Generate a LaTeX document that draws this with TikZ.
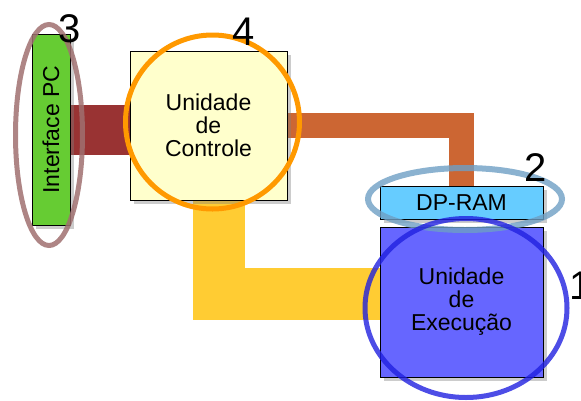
\documentclass[tikz,border=0pt]{standalone}
\usepackage{fontspec}
\setmainfont{Liberation Sans}
\usetikzlibrary{positioning, calc, shadows}
\pgfdeclarelayer{bg}
\pgfsetlayers{bg,main}
\definecolor{pcgreen}{HTML}{66CC33}
\definecolor{ctrlyellow}{HTML}{FFFFCC}
\definecolor{ramsky}{HTML}{66CCFF}
\definecolor{execblue}{HTML}{6666FF}
\definecolor{redbar}{HTML}{993333}
\definecolor{rustbar}{HTML}{CC6633}
\definecolor{yellowbar}{HTML}{FFCC33}
\definecolor{ringbrown}{HTML}{A07070}
\definecolor{ringorange}{HTML}{FF9900}
\definecolor{ringsky}{HTML}{6E9FC4}
\definecolor{ringblue}{HTML}{2020E0}

\begin{document}
\begin{tikzpicture}[
                    x=1pt, y=-1pt,
                    every node/.style={font=\fontsize{23}{23}\selectfont},
                    box/.style={draw, line width=1pt, inner sep=0pt, align=center,
                                drop shadow={shadow xshift=4pt, shadow yshift=-4pt, opacity=.4}},
                    bar/.style={line width=#1, line join=miter,
                                preaction={draw=black, opacity=.3, transform canvas={shift={(4pt,-4pt)}}}},
                    ring/.style={line width=5pt},
                    digit/.style={font=\fontsize{40}{40}\selectfont, inner sep=0pt},
                ]
                \useasboundingbox (0,0) rectangle (581,400);

                % blocos
                \node[box, fill=pcgreen, minimum width=38pt, minimum height=191pt] (pc) at (51,129.5) {\rotatebox{90}{Interface PC}};
                \node[box, fill=ctrlyellow, minimum width=157pt, minimum height=149pt] (ctrl) at (208.5,125.5) {Unidade\\de\\Controle};
                \node[box, fill=execblue, minimum width=163pt, minimum height=150pt] (exec) at (461.5,302) {Unidade\\de\\Execução};
                \node[box, fill=ramsky, minimum width=163pt, minimum height=33pt, above=7pt of exec] (ram) {DP-RAM};

                % barramentos
                \begin{pgfonlayer}{bg}
                    \draw[bar=50pt, draw=redbar] (pc) -- (pc -| ctrl);
                    \draw[bar=25pt, draw=rustbar] (ctrl) -| (ram);
                    \draw[bar=52pt, draw=yellowbar] ($(ctrl.south)+(10,0)$) |- ($(exec.west)+(0,-8)$);
                \end{pgfonlayer}

                % destaques
                \draw[ring, draw=ringbrown, opacity=.85] (49,135) ellipse [x radius=33.5pt, y radius=110.5pt];
                \draw[ring, draw=ringorange] (212.5,122) circle [radius=87pt];
                \draw[ring, line width=6pt, draw=ringsky, opacity=.8] (465,199) ellipse [x radius=97pt, y radius=31pt];
                \draw[ring, draw=ringblue, opacity=.8] (466,308) ellipse [x radius=101pt, y radius=89.5pt];

                \node[digit] (n3) at (70,29) {3};
                \node[digit] (n4) at (244,32) {4};
                \node[digit] (n2) at (536,168) {2};
                \node[digit] (n1) at (581,286) {1};
\end{tikzpicture}
\end{document}
